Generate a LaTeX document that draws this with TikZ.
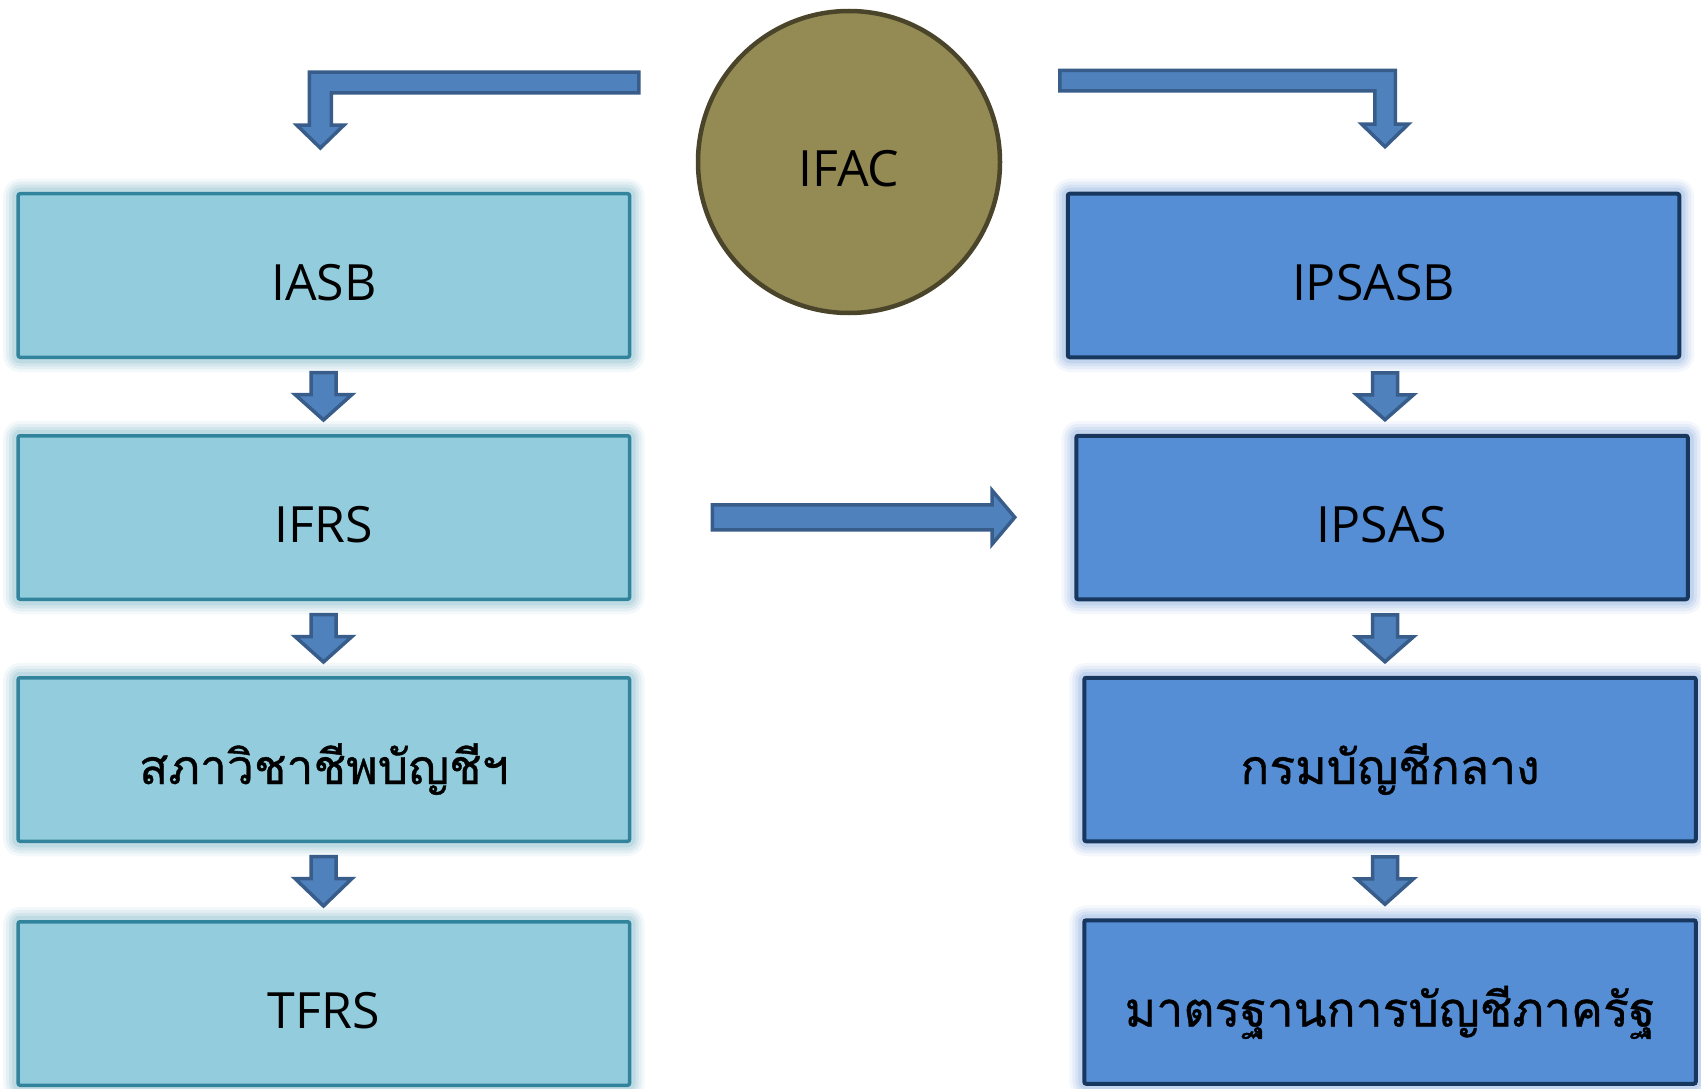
\documentclass[tikz,border=0pt]{standalone}
\usepackage{fontspec}
\setmainfont{Open Sans}
\newfontfamily\thaifont[Script=Thai,FakeBold=0.8]{Loma}
\usetikzlibrary{calc}
\definecolor{lfill}{HTML}{93CDDD}
\definecolor{lborder}{HTML}{31849B}
\definecolor{lglow}{HTML}{8DBFCF}
\definecolor{rfill}{HTML}{558ED5}
\definecolor{rborder}{HTML}{17375E}
\definecolor{rglow}{HTML}{95B6E2}
\definecolor{cfill}{HTML}{948A54}
\definecolor{cborder}{HTML}{4A452A}
\definecolor{afill}{HTML}{4F81BD}
\definecolor{aborder}{HTML}{385D8A}
\newcommand\blockdown[3]{%
  \path[blockarrow] let \p1=(#1.south), \p2=(#2.north) in
    ({#3pt-12.5pt},{\y1-13.5pt}) -- ({#3pt+12.5pt},{\y1-13.5pt}) --
    ({#3pt+12.5pt},{\y1-35.5pt}) -- ({#3pt+28.5pt},{\y1-35.5pt}) --
    ({#3pt},{\y2+14pt}) -- ({#3pt-28.5pt},{\y1-35.5pt}) --
    ({#3pt-12.5pt},{\y1-35.5pt}) -- cycle;}
\begin{document}
\begin{tikzpicture}[x=1pt,y=-1pt,
  box/.style={rectangle, rounded corners=2pt, minimum width=611.5pt, minimum height=163.5pt,
    inner sep=0pt, text height=49pt, text depth=0pt, text=black, font=\fontsize{50}{60}\selectfont},
  glow/.style={
    preaction={draw=#1, line width=30pt, draw opacity=0.10, line join=round},
    preaction={draw=#1, line width=24pt, draw opacity=0.14, line join=round},
    preaction={draw=#1, line width=18pt, draw opacity=0.20, line join=round},
    preaction={draw=#1, line width=12pt, draw opacity=0.28, line join=round}},
  lbox/.style={box, draw=lborder, fill=lfill, line width=3.5pt, glow=lglow},
  rbox/.style={box, draw=rborder, fill=rfill, line width=4pt, glow=rglow},
  thai/.style={font=\thaifont\fontsize{48}{58}\selectfont},
  blockarrow/.style={draw=aborder, fill=afill, line width=3.5pt, line join=miter}
]
\useasboundingbox (0,0) rectangle (1701,1089);
\fill[white] (0,0) rectangle (1701,1089);

% left column
\node[lbox] (iasb) at (323.85,275.5) {IASB};
\node[lbox] (ifrs) at (323.85,517.5) {IFRS};
\node[lbox, thai] (tfac) at (323.85,759.5) {สภาวิชาชีพบัญชีฯ};
\node[lbox] (tfrs) at (323.85,1003.5) {TFRS};

% right column
\node[rbox] (ipsasb) at (1373.5,275.5) {IPSASB};
\node[rbox] (ipsas) at (1382,517.5) {IPSAS};
\node[rbox, thai] (cgd) at (1390,759.5) {กรมบัญชีกลาง};
\node[rbox, thai] (tpsas) at (1390,1002) {มาตรฐานการบัญชีภาครัฐ};

% IFAC
\node[circle, draw=cborder, fill=cfill, line width=4.5pt, minimum size=302pt, inner sep=0pt,
  text height=49pt, text depth=0pt, font=\fontsize{50}{60}\selectfont] (ifac) at (849,162) {IFAC};

% bent arrow IFAC -> IASB
\path[blockarrow] let \p1=(ifac.west), \p2=(iasb.north) in
  ({\x1-57pt},-72.2pt) -- ({\x2-14.5pt},-72.2pt) -- ({\x2-14.5pt},-125.2pt) --
  ({\x2-27pt},-125.2pt) -- ({\x2-3.5pt},{\y2+44pt}) -- ({\x2+20pt},-125.2pt) --
  ({\x2+7.5pt},-125.2pt) -- ({\x2+7.5pt},-92.8pt) -- ({\x1-57pt},-92.8pt) -- cycle;

% bent arrow IFAC -> IPSASB
\path[blockarrow] let \p1=(ifac.east), \p2=(ipsasb.north) in
  ({\x1+57.5pt},-70.5pt) -- (1395.25pt,-70.5pt) -- (1395.25pt,-124.2pt) --
  (1408.25pt,-124.2pt) -- (1385pt,{\y2+45pt}) -- (1361.75pt,-124.2pt) --
  (1374.75pt,-124.2pt) -- (1374.75pt,-90.8pt) -- ({\x1+57.5pt},-90.8pt) -- cycle;

% IFRS -> IPSAS
\path[blockarrow] let \p1=(ifrs.east), \p2=(ipsas.west) in
  ({\x1+81pt},-504.8pt) -- (992pt,-504.8pt) -- (992pt,-490.3pt) --
  ({\x2-59.5pt},-517.3pt) -- (992pt,-544.3pt) -- (992pt,-529.8pt) --
  ({\x1+81pt},-529.8pt) -- cycle;

% small down arrows
\blockdown{iasb}{ifrs}{323.5}
\blockdown{ifrs}{tfac}{323.5}
\blockdown{tfac}{tfrs}{323.5}
\blockdown{ipsasb}{ipsas}{1385}
\blockdown{ipsas}{cgd}{1385}
\blockdown{cgd}{tpsas}{1385}
\end{tikzpicture}
\end{document}
